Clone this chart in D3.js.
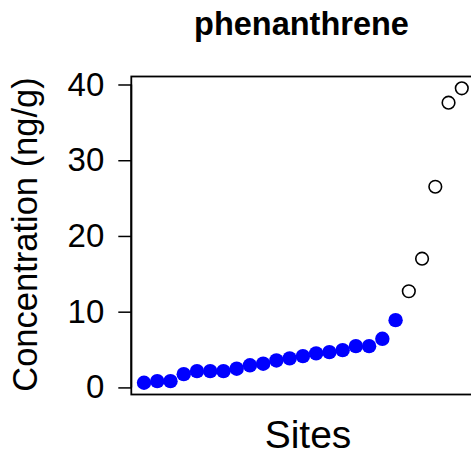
<!DOCTYPE html>
<html>
<head>
<meta charset="utf-8">
<script src="https://cdn.jsdelivr.net/npm/d3@7"></script>
<style>
  html, body { margin: 0; padding: 0; background: #fff; }
  svg { display: block; }
  text { font-family: "Liberation Sans", Arial, sans-serif; fill: #000; }
</style>
</head>
<body>
<svg id="chart" width="471" height="459"></svg>
<script>
// ---- data ----
const title = "phenanthrene";
const xLabel = "Sites";
const yLabel = "Concentration (ng/g)";
const siteIndex = d3.range(1, 26);
const concentration = [0.62, 0.83, 0.83, 1.75, 2.15, 2.15, 2.15, 2.47, 2.92, 3.13,
                       3.56, 3.83, 4.13, 4.49, 4.66, 4.92, 5.45, 5.45, 6.42, 8.88,
                       12.7, 17.0, 26.5, 37.6, 39.5];
const isOutlier = [0,0,0,0,0,0,0,0,0,0, 0,0,0,0,0,0,0,0,0,0, 1,1,1,1,1];
const yTicks = [0, 10, 20, 30, 40];

const data = siteIndex.map((s, i) => ({ site: s, value: concentration[i], outlier: isOutlier[i] === 1 }));

// ---- layout ----
const svg = d3.select("#chart");
const plot = { left: 131.3, right: 474.5, top: 76.5, bottom: 394.5 };

const xPad = 0.04 * (d3.max(siteIndex) - d3.min(siteIndex));
const x = d3.scaleLinear()
  .domain([d3.min(siteIndex) - xPad, d3.max(siteIndex) + xPad])
  .range([plot.left, plot.right]);

const yMin = d3.min(concentration), yMax = d3.max(concentration);
const yPad = 0.04 * (yMax - yMin);
const y = d3.scaleLinear()
  .domain([yMin - yPad, yMax + yPad])
  .range([plot.bottom, plot.top]);

// box
svg.append("rect")
  .attr("x", plot.left).attr("y", plot.top)
  .attr("width", plot.right - plot.left).attr("height", plot.bottom - plot.top)
  .attr("fill", "none").attr("stroke", "#000").attr("stroke-width", 1.8);

// y axis
const yAxis = d3.axisLeft(y).tickValues(yTicks).tickSize(13).tickPadding(14).tickSizeOuter(0);
const gy = svg.append("g").attr("transform", `translate(${plot.left},0)`).call(yAxis);
gy.select(".domain").remove();
gy.selectAll(".tick line").attr("stroke", "#000").attr("stroke-width", 1.5);
gy.selectAll(".tick text")
  .style("font-family", '"Liberation Sans", Arial, sans-serif')
  .style("font-size", "33px").attr("fill", "#000");
gy.append("line")
  .attr("x1", 0).attr("x2", 0).attr("y1", y(yTicks[0])).attr("y2", y(yTicks[yTicks.length-1]))
  .attr("stroke", "#000").attr("stroke-width", 1.8);

// points
svg.append("g").selectAll("circle.f")
  .data(data.filter(d => !d.outlier)).join("circle")
  .attr("cx", d => x(d.site)).attr("cy", d => y(d.value))
  .attr("r", 7.2).attr("fill", "#0000FF");

svg.append("g").selectAll("circle.o")
  .data(data.filter(d => d.outlier)).join("circle")
  .attr("cx", d => x(d.site)).attr("cy", d => y(d.value))
  .attr("r", 6.3).attr("fill", "none").attr("stroke", "#000").attr("stroke-width", 1.6);

// title
svg.append("text")
  .attr("x", 301.5).attr("y", 35)
  .attr("text-anchor", "middle")
  .style("font-size", "32.5px").style("font-weight", "bold")
  .text(title);

// x label
svg.append("text")
  .attr("x", 308).attr("y", 448)
  .attr("text-anchor", "middle")
  .style("font-size", "39px")
  .text(xLabel);

// y label
svg.append("text")
  .attr("transform", `translate(37,${(plot.top + plot.bottom) / 2 - 1}) rotate(-90)`)
  .attr("text-anchor", "middle")
  .style("font-size", "34.5px")
  .text(yLabel);
</script>
</body>
</html>
